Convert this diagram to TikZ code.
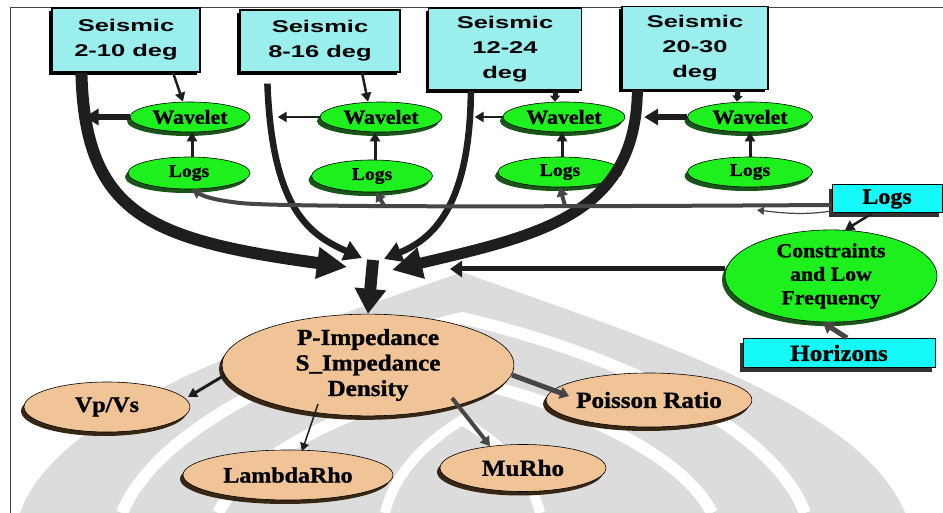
\documentclass[tikz,border=0pt]{standalone}
\usepackage{fontspec}
\usetikzlibrary{arrows.meta,shapes.geometric,shadows}
\newfontfamily\sanswide[FakeStretch=1.5]{Liberation Sans}
\newfontfamily\serifwide[FakeStretch=1.09,FakeBold=1.2]{Liberation Serif}
\definecolor{seiscyan}{RGB}{155,238,238}
\definecolor{boxcyan}{RGB}{20,250,250}
\definecolor{leafgreen}{RGB}{30,240,30}
\definecolor{greenshade}{RGB}{25,85,25}
\definecolor{peach}{RGB}{240,196,150}
\definecolor{peachshade}{RGB}{55,38,20}
\definecolor{ink}{RGB}{30,30,30}
\definecolor{inkgrey}{RGB}{70,70,70}
\definecolor{wmgrey}{RGB}{220,220,220}
\begin{document}
\begin{tikzpicture}[x=1pt,y=-1pt,
  seisbox/.style={draw=black,line width=1.2pt,fill=seiscyan,inner sep=0pt,
    align=center,font=\sanswide\bfseries\fontsize{17}{25}\selectfont,
    general shadow={shadow xshift=-3pt,shadow yshift=-3pt,fill=black}},
  cyanbox/.style={draw=black,line width=1pt,fill=boxcyan,inner sep=0pt,
    font=\serifwide\bfseries\fontsize{23}{25}\selectfont,
    general shadow={shadow xshift=-3pt,shadow yshift=-4pt,fill=black!80}},
  greenell/.style={ellipse,draw=black,line width=0.6pt,fill=leafgreen,inner sep=0pt,
    align=center,general shadow={shadow xshift=-3pt,shadow yshift=-4pt,fill=greenshade}},
  peachell/.style={ellipse,draw=black,line width=0.6pt,fill=peach,inner sep=0pt,
    align=center,font=\serifwide\bfseries\fontsize{23}{25.5}\selectfont,
    general shadow={shadow xshift=-3pt,shadow yshift=-4pt,fill=peachshade}},
  wavefont/.style={font=\serifwide\bfseries\fontsize{20}{22}\selectfont},
  logfont/.style={font=\serifwide\bfseries\fontsize{18}{20}\selectfont},
  bigflow/.style={draw=ink,line width=12pt,-{Triangle[length=30pt,width=30pt]}},
  midflow/.style={draw=ink,line width=6.5pt,-{Triangle[length=18pt,width=20pt]}},
  thickarr/.style={draw=ink,line width=6pt,-{Triangle[length=14pt,width=16pt]}},
  thinarr/.style={draw=ink,line width=2.5pt,-{Triangle[length=9pt,width=10pt]}},
  logarr/.style={draw=inkgrey,line width=4pt,-{Triangle[length=9pt,width=11pt]}},
]
\useasboundingbox (0,0) rectangle (943,513);

% faint emblem in the background
\fill[wmgrey] (20,513) .. controls (60,400) and (300,330) .. (462,272)
  .. controls (620,330) and (860,400) .. (905,513) -- cycle;
\draw[white,line width=12pt] (122,513) .. controls (160,420) and (330,350) .. (462,318)
  .. controls (600,350) and (770,420) .. (805,513);
\draw[white,line width=12pt] (218,513) .. controls (250,450) and (370,400) .. (462,380)
  .. controls (560,400) and (680,450) .. (712,513);
\draw[white,line width=10pt] (385,513) .. controls (395,470) and (430,440) .. (462,420)
  .. controls (495,440) and (530,470) .. (540,513);

% frame
\draw[inkgrey,line width=1pt] (943,8) -- (10,8) -- (10,513);

% seismic inputs
\node[seisbox,minimum width=148pt,minimum height=64pt] (s1) at (126,40) {Seismic\\2-10 deg};
\node[seisbox,minimum width=160pt,minimum height=62pt] (s2) at (320,41) {Seismic\\8-16 deg};
\node[seisbox,minimum width=153pt,minimum height=82pt] (s3) at (505,49) {Seismic\\12-24\\deg};
\node[seisbox,minimum width=146pt,minimum height=83pt] (s4) at (695,48) {Seismic\\20-30\\deg};

% wavelets and logs
\node[greenell,wavefont,minimum width=120pt,minimum height=30pt] (w1) at (190,117) {Wavelet};
\node[greenell,wavefont,minimum width=122pt,minimum height=30pt] (w2) at (381,117) {Wavelet};
\node[greenell,wavefont,minimum width=122pt,minimum height=30pt] (w3) at (564,117) {Wavelet};
\node[greenell,wavefont,minimum width=125pt,minimum height=30pt] (w4) at (750,117) {Wavelet};
\node[greenell,logfont,minimum width=122pt,minimum height=32pt] (l1) at (189,173) {Logs};
\node[greenell,logfont,minimum width=121pt,minimum height=32pt] (l2) at (372,176) {Logs};
\node[greenell,logfont,minimum width=124pt,minimum height=30pt] (l3) at (560,172) {Logs};
\node[greenell,logfont,minimum width=125pt,minimum height=30pt] (l4) at (750,172) {Logs};

\node[cyanbox,font=\serifwide\bfseries\fontsize{22}{24}\selectfont,
  minimum width=110pt,minimum height=28pt] (lb) at (887,199) {Logs};
\node[greenell,font=\serifwide\bfseries\fontsize{20}{23.5}\selectfont,
  minimum width=212pt,minimum height=82pt] (cons) at (831,276) {Constraints\\and Low\\Frequency};
\node[cyanbox,minimum width=192pt,minimum height=29pt] (hor) at (839,353) {Horizons};

% results
\node[peachell,minimum width=292pt,minimum height=80pt] (pimp) at (368,365) {P-Impedance\\S\_Impedance\\Density};
\node[peachell,font=\serifwide\bfseries\fontsize{22}{24}\selectfont,
  minimum width=166pt,minimum height=50pt] (vpvs) at (107,407) {Vp/Vs};
\node[peachell,font=\serifwide\bfseries\fontsize{22}{24}\selectfont,
  minimum width=210pt,minimum height=50pt] (lam) at (288,475) {LambdaRho};
\node[peachell,minimum width=166pt,minimum height=47pt] (mu) at (523,468) {MuRho};
\node[peachell,minimum width=168pt,minimum height=54pt] (poi) at (649,400) {Poisson Ratio};

% meeting point of the inversion inputs
\coordinate (t1) at (347,267);
\coordinate (t2) at (362,258);
\coordinate (t3) at (384,259);
\coordinate (t4) at (392,270);
\coordinate (hub) at (373,260);
\coordinate (t5) at (450,269);

% seismic flows
\draw[bigflow] ([xshift=30pt]s1.south west) .. controls (85,215) and (150,240) .. (t1);
\draw[midflow] ([xshift=28pt,yshift=-11pt]s2.south west) .. controls (272,210) and (310,235) .. (t2);
\draw[midflow] ([xshift=43pt]s3.south west) .. controls (470,210) and (430,240) .. (t3);
\draw[bigflow,line width=11pt] ([xshift=16pt]s4.south west) .. controls (636,215) and (540,235) .. (t4);
\draw[draw=ink,line width=12pt,-{Triangle[length=25pt,width=30pt]}] (hub) -- (pimp.north);

% wavelets into the seismic flows
\draw[thickarr] (w1.west) -- +(-45,0);
\draw[thinarr] (w2.west) -- +(-42,0);
\draw[thinarr] (w3.west) -- +(-28,0);
\draw[thickarr] (w4.west) -- +(-43,0);

% seismic to wavelet
\draw[thinarr] ([xshift=47pt]s1.south) -- ([xshift=-7pt]w1.north);
\draw[thinarr] ([xshift=42pt]s2.south) -- ([xshift=-13pt]w2.north);
\draw[thickarr,line width=5pt,-{Triangle[length=6pt,width=10pt]}] ([xshift=50pt]s3.south) -- ([xshift=-9pt]w3.north);
\draw[thickarr,line width=5pt,-{Triangle[length=6pt,width=10pt]}] ([xshift=43pt]s4.south) -- ([xshift=-13pt]w4.north);

% logs to wavelet
\draw[thinarr,line width=3pt] ([xshift=3pt]l1.north) -- ([xshift=2pt]w1.south);
\draw[thinarr,line width=3pt] ([xshift=3pt]l2.north) -- ([xshift=-6pt]w2.south);
\draw[thinarr,line width=3pt] ([xshift=2pt]l3.north) -- ([xshift=-2pt]w3.south);
\draw[thinarr,line width=3pt] (l4.north) -- (w4.south);

% well logs distributed along the bottom
\coordinate (b2) at (385,207);
\coordinate (b3) at (565,206);
\coordinate (c4) at (757,210);
\draw[logarr] ([yshift=-6pt]lb.west) .. controls (500,207) and (280,207) .. (240,203)
  .. controls (215,200) and (205,197) .. (l1.-80);
\draw[logarr] (b2) -- ([xshift=4pt]l2.south);
\draw[logarr] (b3) -- (l3.south);
\draw[draw=inkgrey,line width=1.2pt,-{Triangle[length=7pt,width=8pt]}]
  ([yshift=-12pt]lb.west) .. controls (800,216) and (775,212) .. (c4);

% constraints
\draw[draw=ink,line width=2.5pt,-{Triangle[length=9pt,width=11pt]}] ([xshift=-15pt]lb.south) -- (cons.73);
\draw[draw=ink,line width=5pt,-{Triangle[length=12pt,width=16pt]}] (cons.west |- t5) -- (t5);
\draw[draw=inkgrey,line width=5pt,-{Triangle[length=10pt,width=14pt]}] ([xshift=8pt]hor.north) -- (cons.-100);

% derived attributes
\draw[draw=ink,line width=3pt,-{Triangle[length=9pt,width=10pt]}]
  ([shift={(-143,10)}]pimp.center) -- ([shift={(81,-10)}]vpvs.center);
\draw[draw=ink,line width=1.5pt,-{Triangle[length=8pt,width=9pt]}]
  ([shift={(-50,39)}]pimp.center) -- ([shift={(14,-24)}]lam.center);
\draw[draw=inkgrey,line width=4pt,-{Triangle[length=9pt,width=11pt]}]
  ([shift={(84,33)}]pimp.center) -- ([shift={(-33,-22)}]mu.center);
\draw[draw=inkgrey,line width=5pt,-{Triangle[length=9pt,width=12pt]}]
  ([shift={(144,10)}]pimp.center) -- ([shift={(-80,-4)}]poi.center);
\end{tikzpicture}
\end{document}
